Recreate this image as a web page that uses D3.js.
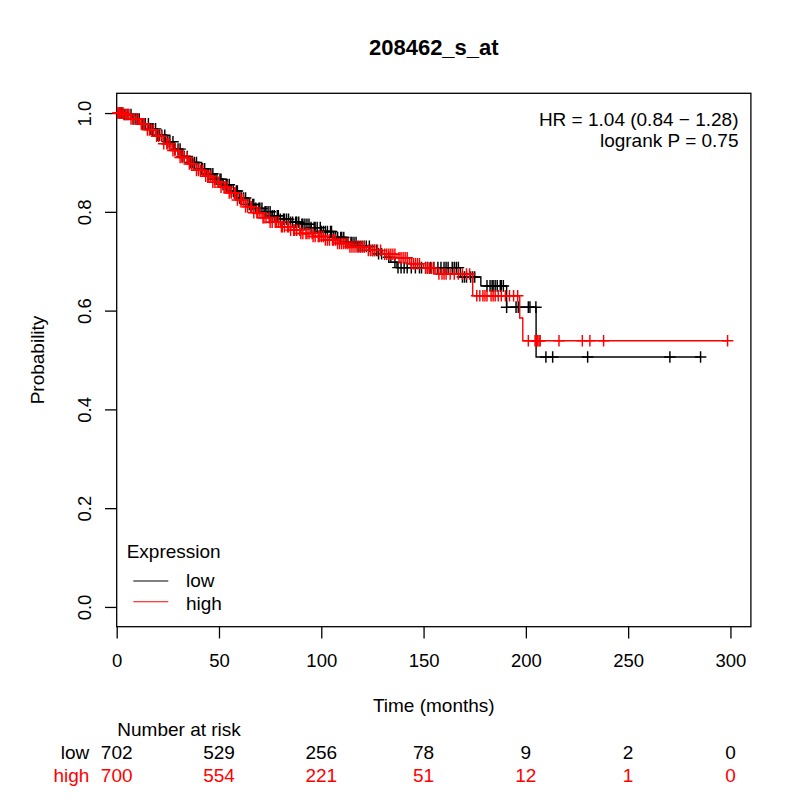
<!DOCTYPE html>
<html>
<head>
<meta charset="utf-8">
<script src="https://cdn.jsdelivr.net/npm/d3@7.9.0/dist/d3.min.js"></script>
<style>
  html, body { margin: 0; padding: 0; background: #fff; }
  svg { display: block; font-family: "Liberation Sans", Arial, Helvetica, sans-serif; }
</style>
</head>
<body>
<svg id="chart" width="800" height="800"></svg>
<script>
// ── data ─────────────────────────────────────────────────────────────────────
const title = '208462_s_at';
const hrText = 'HR = 1.04 (0.84 \u2212 1.28)';
const pText = 'logrank P = 0.75';

// step points of the survival curves (time in months, survival)
const lowTimes = [0, 4, 8, 12, 16, 20, 24, 28, 32, 36, 40, 44, 48, 52, 56, 60, 64, 68, 72, 76, 80, 85, 90, 95, 100, 106, 112, 118, 124, 128, 131, 134, 137, 168, 178, 190.6, 205];
const lowSurv  = [1, 0.997, 0.988, 0.978, 0.968, 0.955, 0.942, 0.927, 0.912, 0.9, 0.887, 0.877, 0.866, 0.855, 0.842, 0.828, 0.815, 0.807, 0.8, 0.792, 0.785, 0.779, 0.775, 0.768, 0.76, 0.748, 0.738, 0.73, 0.722, 0.715, 0.708, 0.698, 0.687, 0.668, 0.65, 0.607, 0.506];
const lowEnd = 285.4;

const highTimes = [0, 3, 7, 11, 15, 19, 23, 27, 31, 35, 39, 43, 47, 51, 55, 59, 63, 67, 71, 75, 80, 85, 90, 96, 102, 108, 114, 122, 130, 137, 143, 150, 156, 174, 197, 198.5];
const highSurv  = [1, 0.997, 0.988, 0.978, 0.966, 0.953, 0.938, 0.924, 0.91, 0.897, 0.884, 0.872, 0.86, 0.85, 0.838, 0.824, 0.81, 0.798, 0.788, 0.779, 0.77, 0.763, 0.756, 0.75, 0.743, 0.736, 0.729, 0.722, 0.714, 0.707, 0.695, 0.686, 0.674, 0.63, 0.585, 0.539];
const highEnd = 298.6;

// censoring times
const lowCensor = [1.5, 2.2, 3, 4, 5.5, 7, 8, 9, 10, 11, 12.5, 14, 15.5, 16.5, 17.5, 19, 20, 21, 22, 23.5, 25, 26, 27.5, 28.5, 30, 31, 32, 33, 34.5, 36, 37, 38, 39, 40, 41.5, 42, 43, 44.5, 45, 46, 47, 48, 49, 50.5, 51, 52, 53.5, 54, 55, 56, 57, 58.5, 59, 60, 61, 62, 63, 64, 65, 66.5, 67, 68, 69.5, 70, 71, 72.5, 73, 74, 75, 76, 77, 78.5, 79, 80, 81.5, 82, 83, 84, 85, 86, 87.5, 88, 89, 90.5, 91, 92, 93, 94, 95, 96.5, 97, 98, 99.5, 100, 101, 102, 103, 104.5, 105, 106, 107, 108, 109.5, 110, 111, 112, 113, 114.5, 115, 116, 117, 118, 119, 120, 121, 122, 123.5, 125, 126, 127, 128, 129.5, 133, 136, 137.5, 139, 140.5, 142, 144, 146, 148, 149, 151, 152, 153.5, 155, 157, 158.5, 160, 161, 162, 164, 165, 166, 167, 169, 170, 171, 173, 174, 175, 181, 182.5, 183.5, 184, 185, 186, 187.5, 188, 189, 190.6, 195.2, 196.3, 201.2, 202, 204.9, 209.8, 213.1, 230.2, 270.4, 285.4];
const highCensor = [0.5, 1, 1.5, 2, 2.8, 3.5, 4.5, 5, 6, 7, 8, 9.5, 10.5, 12, 13, 13.5, 15, 16, 17, 18, 19.5, 20.5, 22, 23, 24.5, 25, 26, 27.5, 28.5, 30, 31, 32, 33, 34.5, 35.5, 36.5, 37.5, 39, 40, 41, 42, 43.5, 44.5, 45, 46, 47, 48, 49.5, 50, 51, 52.5, 53, 54, 55, 56, 57.5, 58, 59, 60.5, 61, 62, 63, 64, 65.5, 66, 67, 68.5, 69, 70, 71.5, 72, 73, 74.5, 75, 76, 77.5, 78, 79, 80.5, 81, 82, 83.5, 84, 85, 86.5, 87, 88, 89.5, 90, 91, 92.5, 93, 94, 95.5, 96, 97, 98.5, 99, 100, 101, 102, 103, 104, 105.5, 106, 107, 108, 109, 110, 111, 112, 113, 114, 115, 116, 117, 118, 119, 120, 121, 123, 124, 125, 126, 127.5, 129, 131, 132, 133, 134, 135, 136, 138, 139, 140, 141, 142, 144, 145, 146, 147, 148, 151, 152, 153, 154, 155, 157.5, 159, 160, 161, 163, 165, 167, 169, 171, 172.5, 176, 177.5, 179, 180, 181, 183, 184, 185, 186.5, 188, 190, 192, 194, 196, 201.2, 204.5, 205.2, 205.8, 206.5, 207, 216.2, 227.6, 231.3, 238, 298.6];

// number at risk table
const riskTimes = [0, 50, 100, 150, 200, 250, 300];
const riskLow  = [702, 529, 256, 78, 9, 2, 0];
const riskHigh = [700, 554, 221, 51, 12, 1, 0];

const xTicks = [0, 50, 100, 150, 200, 250, 300];
const yTicks = [0, 0.2, 0.4, 0.6, 0.8, 1.0];

const RED = '#f00';
const FS = 19;      // regular text size
const FS_TICK = 18.5;

// ── layout ───────────────────────────────────────────────────────────────────
const svg = d3.select('#chart');
const mLeft = 116.7, mRight = 750.9, mTop = 93.3, mBottom = 626.7;

const x = d3.scaleLinear().domain([0, 310]).range([mLeft, mRight]);
const y = d3.scaleLinear().domain([-0.04, 1.04]).range([mBottom, mTop]);

// plot box
svg.append('rect')
  .attr('x', mLeft).attr('y', mTop)
  .attr('width', mRight - mLeft).attr('height', mBottom - mTop)
  .attr('fill', 'none').attr('stroke', '#000').attr('stroke-width', 1.3);

// axes
const xAxis = svg.append('g')
  .attr('transform', `translate(0,${mBottom})`)
  .call(d3.axisBottom(x).tickValues(xTicks).tickSize(11.7).tickSizeOuter(0).tickFormat(d3.format('d')));
xAxis.select('.domain').remove();
xAxis.selectAll('line').attr('stroke-width', 1.3);
xAxis.selectAll('text')
  .attr('y', 40.6).attr('dy', null)
  .attr('font-size', FS_TICK).attr('fill', '#000')
  .style('font-family', '"Liberation Sans", Arial, sans-serif');

const yAxis = svg.append('g')
  .attr('transform', `translate(${mLeft},0)`)
  .call(d3.axisLeft(y).tickValues(yTicks).tickSize(11.7).tickSizeOuter(0).tickFormat(d3.format('.1f')));
yAxis.select('.domain').remove();
yAxis.selectAll('line').attr('stroke-width', 1.3);
yAxis.selectAll('text')
  .attr('x', null).attr('dy', null)
  .attr('text-anchor', 'middle')
  .attr('transform', 'translate(-25.5,0) rotate(-90)')
  .attr('font-size', FS_TICK).attr('fill', '#000')
  .style('font-family', '"Liberation Sans", Arial, sans-serif');

// ── curves ───────────────────────────────────────────────────────────────────
function survAt(times, surv, t) {
  const i = d3.bisectRight(times, t) - 1;
  return surv[Math.max(0, i)];
}

function drawGroup(times, surv, endT, censor, color) {
  const pts = times.map((t, i) => [t, surv[i]]);
  pts.push([endT, surv[surv.length - 1]]);
  const line = d3.line()
    .x((d) => x(d[0]))
    .y((d) => y(d[1]))
    .curve(d3.curveStepAfter);
  svg.append('path')
    .attr('d', line(pts))
    .attr('fill', 'none')
    .attr('stroke', color)
    .attr('stroke-width', 1.4);

  // censor marks (+)
  const g = svg.append('g').attr('stroke', color).attr('stroke-width', 1.45);
  censor.forEach((t) => {
    const cx = x(t), cy = y(survAt(times, surv, t));
    g.append('path').attr('d', `M${cx - 5.8},${cy}H${cx + 5.8}M${cx},${cy - 5.8}V${cy + 5.8}`);
  });
}

drawGroup(lowTimes, lowSurv, lowEnd, lowCensor, '#000');
drawGroup(highTimes, highSurv, highEnd, highCensor, RED);

// ── texts ────────────────────────────────────────────────────────────────────
svg.append('text')
  .attr('x', (mLeft + mRight) / 2).attr('y', 55)
  .attr('text-anchor', 'middle')
  .attr('font-size', 22).attr('font-weight', 'bold')
  .text(title);

svg.append('text')
  .attr('x', 738.5).attr('y', 125.7)
  .attr('text-anchor', 'end').attr('font-size', FS)
  .text(hrText);
svg.append('text')
  .attr('x', 738.5).attr('y', 146.7)
  .attr('text-anchor', 'end').attr('font-size', FS)
  .text(pText);

svg.append('text')
  .attr('x', (mLeft + mRight) / 2).attr('y', 712)
  .attr('text-anchor', 'middle').attr('font-size', FS)
  .text('Time (months)');

svg.append('text')
  .attr('transform', `translate(43.5,${(mTop + mBottom) / 2}) rotate(-90)`)
  .attr('text-anchor', 'middle').attr('font-size', FS)
  .text('Probability');

// legend
svg.append('text')
  .attr('x', 126.7).attr('y', 558.3)
  .attr('font-size', FS)
  .text('Expression');
[['low', '#000', 581, 587.3], ['high', RED, 601.7, 610]].forEach(([lab, col, ly, ty]) => {
  svg.append('line')
    .attr('x1', 133.3).attr('x2', 168.3).attr('y1', ly).attr('y2', ly)
    .attr('stroke', col).attr('stroke-width', 1.1);
  svg.append('text')
    .attr('x', 186).attr('y', ty)
    .attr('font-size', FS)
    .text(lab);
});

// number at risk
svg.append('text')
  .attr('x', x(0) + 0.6).attr('y', 736)
  .attr('font-size', FS)
  .text('Number at risk');

[['low', riskLow, '#000', 759.3], ['high', riskHigh, RED, 781.7]].forEach(([lab, vals, col, by]) => {
  svg.append('text')
    .attr('x', 89.3).attr('y', by)
    .attr('text-anchor', 'end').attr('font-size', FS).attr('fill', col)
    .text(lab);
  riskTimes.forEach((t, i) => {
    svg.append('text')
      .attr('x', x(t)).attr('y', by)
      .attr('text-anchor', 'middle').attr('font-size', FS).attr('fill', col)
      .text(vals[i]);
  });
});
</script>
</body>
</html>
